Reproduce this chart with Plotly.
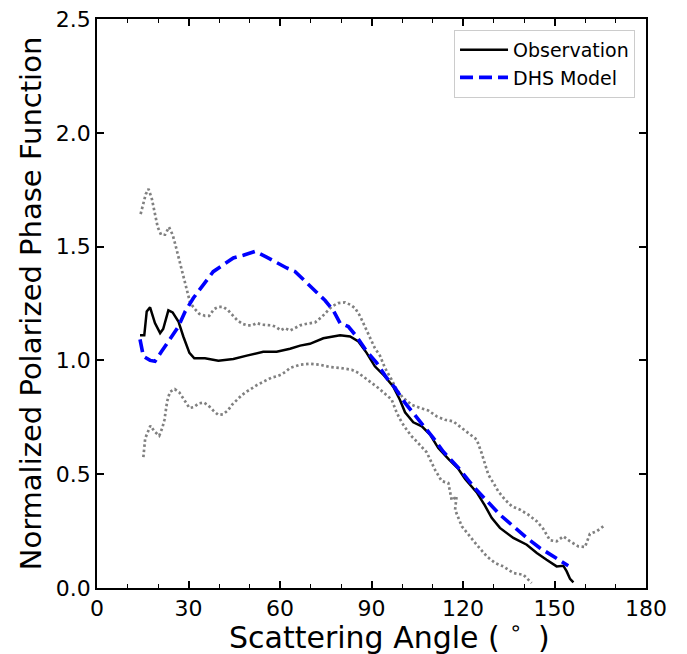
import plotly.graph_objects as go

# Observation (black solid)
obs_x = [14.1, 15.5, 16.3, 17.4, 19.0, 20.7, 21.7, 23.4, 24.8, 26.7, 28.3, 30.3, 31.9, 35.4, 39.8,
         44.7, 49.1, 54.5, 58.9, 63.3, 66.6, 69.8, 74.2, 79.7, 83.0, 85.7, 88.4, 91.1, 93.9, 97.1,
         99.3, 101.0, 103.7, 106.5, 109.2, 111.9, 115.2, 118.5, 120.7, 124.5, 127.2, 129.4, 132.1,
         136.5, 140.9, 144.2, 147.4, 150.7, 152.9, 154.0, 155.1, 156.2]
obs_y = [1.110, 1.110, 1.215, 1.233, 1.164, 1.120, 1.138, 1.220, 1.211, 1.171, 1.105, 1.033, 1.009,
         1.009, 0.999, 1.006, 1.021, 1.038, 1.038, 1.051, 1.065, 1.073, 1.097, 1.110, 1.105, 1.083,
         1.033, 0.974, 0.937, 0.886, 0.827, 0.772, 0.728, 0.710, 0.674, 0.615, 0.567, 0.523, 0.479,
         0.420, 0.362, 0.308, 0.264, 0.220, 0.190, 0.154, 0.124, 0.095, 0.098, 0.073, 0.040, 0.025]

# DHS Model (blue dashed)
dhs_x = [14.1, 15.2, 17.4, 19.0, 21.2, 23.9, 26.7, 28.9, 31.6, 34.9, 38.1, 41.4, 44.7, 48.0, 51.8,
         55.6, 58.9, 62.2, 64.9, 68.2, 70.9, 74.8, 77.5, 79.7, 82.4, 85.1, 88.4, 91.7, 95.0, 97.7,
         101.0, 103.7, 107.0, 110.3, 113.5, 119.0, 123.4, 127.8, 132.1, 136.5, 140.9, 145.2, 149.6, 154.5]
dhs_y = [1.092, 1.018, 1.000, 0.996, 1.040, 1.091, 1.149, 1.215, 1.274, 1.333, 1.390, 1.420, 1.450,
         1.462, 1.479, 1.454, 1.428, 1.406, 1.391, 1.347, 1.311, 1.263, 1.219, 1.164, 1.149, 1.105,
         1.040, 0.989, 0.923, 0.879, 0.813, 0.769, 0.710, 0.659, 0.600, 0.520, 0.446, 0.381, 0.322,
         0.271, 0.220, 0.176, 0.139, 0.098]

# Upper uncertainty bound (gray dotted)
up_x = [14.3, 15.0, 16.0, 16.9, 18.0, 18.7, 19.2, 19.9, 21.0, 22.3, 23.6, 24.8, 25.7, 26.3, 27.1,
        27.8, 28.4, 29.1, 29.7, 30.5, 31.8, 33.5, 35.4, 36.8, 38.4, 39.8, 41.4, 43.0, 44.5, 46.0,
        47.8, 49.3, 50.9, 52.4, 54.0, 55.6, 57.3, 58.7, 60.2, 61.6, 63.3, 64.9, 66.6, 68.8, 71.5,
        73.7, 75.3, 77.0, 79.1, 81.3, 83.0, 84.6, 86.2, 87.3, 88.6, 89.7, 91.1, 92.8, 94.4, 96.6,
        98.3, 100.4, 103.2, 105.9, 108.6, 111.4, 114.1, 116.8, 119.6, 122.3, 124.5, 126.1, 127.2,
        128.3, 130.0, 131.6, 133.8, 136.0, 138.7, 141.4, 144.2, 146.3, 148.5, 150.7, 152.9, 155.1,
        157.8, 160.0, 161.6, 163.8, 166.0]
up_y = [1.643, 1.677, 1.731, 1.753, 1.709, 1.663, 1.631, 1.586, 1.552, 1.552, 1.586, 1.552, 1.508,
        1.476, 1.442, 1.399, 1.365, 1.331, 1.296, 1.255, 1.230, 1.205, 1.196, 1.196, 1.226, 1.235,
        1.235, 1.220, 1.198, 1.176, 1.160, 1.154, 1.154, 1.164, 1.157, 1.154, 1.154, 1.147, 1.132,
        1.142, 1.131, 1.142, 1.154, 1.161, 1.167, 1.191, 1.215, 1.237, 1.252, 1.255, 1.245, 1.230,
        1.196, 1.164, 1.132, 1.094, 1.054, 1.020, 0.967, 0.915, 0.871, 0.835, 0.805, 0.791, 0.780,
        0.754, 0.739, 0.732, 0.703, 0.674, 0.652, 0.593, 0.542, 0.498, 0.461, 0.424, 0.388, 0.359,
        0.344, 0.322, 0.293, 0.260, 0.210, 0.205, 0.227, 0.205, 0.183, 0.180, 0.238, 0.249, 0.271]

# Lower uncertainty bound (gray dotted)
lo_x = [15.2, 15.4, 15.8, 17.5, 18.9, 20.4, 21.4, 22.1, 22.5, 23.0, 23.9, 25.5, 27.0, 28.5, 30.3,
        31.8, 33.3, 35.0, 36.5, 38.1, 39.7, 41.3, 42.9, 44.4, 46.0, 47.6, 49.2, 50.8, 52.5, 54.1,
        55.6, 57.3, 58.9, 60.4, 62.0, 63.3, 66.6, 69.8, 73.1, 76.4, 79.7, 83.5, 85.7, 87.9, 90.1,
        92.5, 94.7, 96.6, 98.3, 99.9, 101.5, 103.2, 104.8, 108.1, 110.8, 113.0, 115.2, 116.3, 117.9,
        117.4, 119.6, 121.7, 124.5, 127.8, 130.5, 133.2, 136.5, 139.8, 142.5]
lo_y = [0.575, 0.615, 0.657, 0.713, 0.687, 0.669, 0.703, 0.738, 0.779, 0.820, 0.862, 0.874, 0.859,
        0.830, 0.791, 0.795, 0.811, 0.815, 0.802, 0.780, 0.761, 0.763, 0.780, 0.807, 0.829, 0.849,
        0.864, 0.879, 0.892, 0.903, 0.915, 0.925, 0.930, 0.938, 0.952, 0.967, 0.981, 0.985, 0.981,
        0.971, 0.967, 0.959, 0.945, 0.923, 0.898, 0.876, 0.850, 0.828, 0.769, 0.728, 0.696, 0.666,
        0.644, 0.596, 0.520, 0.470, 0.461, 0.385, 0.403, 0.344, 0.271, 0.234, 0.190, 0.139, 0.110,
        0.095, 0.066, 0.058, 0.022]

x_ticks = [0, 30, 60, 90, 120, 150, 180]
y_ticks = [0.0, 0.5, 1.0, 1.5, 2.0, 2.5]

FONT = "DejaVu Sans"
gray = "#808080"

fig = go.Figure()
fig.add_trace(go.Scatter(x=up_x, y=up_y, mode="lines", showlegend=False,
                         line=dict(color=gray, width=2.7, dash="2.5px,2.6px")))
fig.add_trace(go.Scatter(x=lo_x, y=lo_y, mode="lines", showlegend=False,
                         line=dict(color=gray, width=2.7, dash="2.5px,2.6px")))
fig.add_trace(go.Scatter(x=obs_x, y=obs_y, mode="lines", name="Observation",
                         line=dict(color="black", width=2.5)))
fig.add_trace(go.Scatter(x=dhs_x, y=dhs_y, mode="lines", name="DHS Model",
                         line=dict(color="blue", width=3.6, dash="13px,6px")))

axis_common = dict(showline=True, linecolor="black", linewidth=1.8, mirror="ticks",
                   ticks="inside", ticklen=7, tickwidth=1.5, tickcolor="black",
                   showgrid=False, zeroline=False, automargin=False,
                   ticklabeloverflow="allow",
                   tickfont=dict(family=FONT, size=22, color="black"))

fig.update_xaxes(range=[0, 180], tickvals=x_ticks, ticktext=[str(v) for v in x_ticks],
                 minor=dict(dtick=10, ticks="inside", ticklen=4, tickwidth=1.2, tickcolor="black"),
                 **axis_common)
fig.update_yaxes(range=[0, 2.5], tickvals=y_ticks, ticktext=[f"{v:.1f}" for v in y_ticks],
                 title=dict(text="Normalized Polarized Phase Function",
                            font=dict(family=FONT, size=29, color="black"), standoff=6),
                 **axis_common)

# x-axis title as an annotation (positioned like the reference)
fig.add_annotation(text="Scattering Angle ( <sup>\u2218</sup> \u2009)", xref="paper", yref="paper",
                   x=0.532, y=0, yshift=-47, xanchor="center", yanchor="middle",
                   showarrow=False, font=dict(family=FONT, size=30, color="black"))

fig.update_layout(
    template="none",
    width=687, height=654,
    margin=dict(l=89, r=49, t=11, b=74),
    plot_bgcolor="white", paper_bgcolor="white",
    font=dict(family=FONT, color="black"),
    legend=dict(x=0.98, y=0.981, xanchor="right", yanchor="top",
                bgcolor="white", bordercolor="#cccccc", borderwidth=1,
                font=dict(family=FONT, size=19, color="black"),
                itemwidth=48, tracegroupgap=2),
)

fig.write_html("out.html")
